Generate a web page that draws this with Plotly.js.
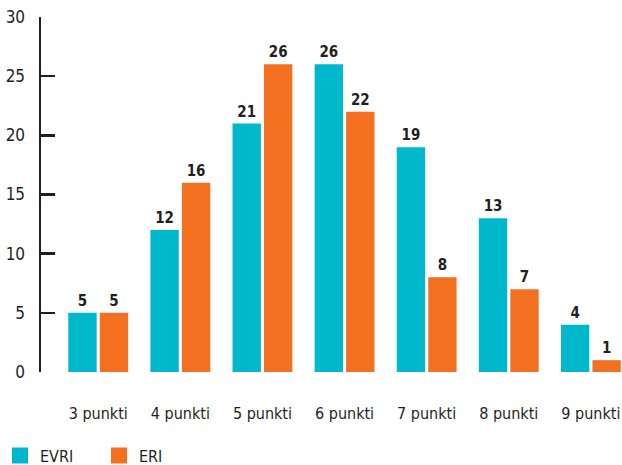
<!DOCTYPE html>
<html><head><meta charset="utf-8">
<script src="https://cdn.plot.ly/plotly-3.0.1.min.js"></script>
<style>html,body{margin:0;padding:0;background:#fff}#c{width:622px;height:465px}</style>
</head><body><div id="c"></div>
<script>
const categories = ["3 punkti","4 punkti","5 punkti","6 punkti","7 punkti","8 punkti","9 punkti"];
const evri = [5,12,21,26,19,13,4];
const eri = [5,16,26,22,8,7,1];
const seriesNames = ["EVRI","ERI"];
const seriesColors = ['#00B8CC','#F37021'];
const yTicks = [0,5,10,15,20,25,30];

const FONT = "DejaVu Sans Condensed, Liberation Sans Narrow, sans-serif";
const INK = "#231F20";
const common = {type:'bar', x:categories, textposition:'outside', cliponaxis:false, showlegend:false,
  textfont:{family:FONT, size:15, color:INK, weight:700}, hoverinfo:'none'};
const data = [
  Object.assign({}, common, {name:seriesNames[0], y:evri, text:evri.map(String), marker:{color:seriesColors[0]}}),
  Object.assign({}, common, {name:seriesNames[1], y:eri, text:eri.map(String), marker:{color:seriesColors[1]}})
];
// legend-only entries with larger square keys
seriesNames.forEach((n,i)=>data.push({type:'scatter', mode:'markers', x:[categories[0]], y:[null], name:n,
  marker:{symbol:'square', size:18, color:seriesColors[i]}, hoverinfo:'none'}));

const layout = {
  width:622, height:465,
  margin:{l:41, r:0, t:17, b:93},
  paper_bgcolor:'#fff', plot_bgcolor:'#fff',
  font:{family:FONT, color:INK, size:16},
  barmode:'group', bargap:0.233, bargroupgap:0.1,
  showlegend:true,
  legend:{orientation:'h', xref:'container', yref:'container', x:0.0, y:0.02, xanchor:'left', yanchor:'middle',
    font:{family:FONT, size:16, color:INK}, entrywidth:54, entrywidthmode:'pixels', itemwidth:30, itemsizing:'trace'},
  xaxis:{type:'category', range:[-0.697,6.379], showline:false, ticks:'', showgrid:false, zeroline:false,
    tickfont:{family:FONT, size:16, color:INK}, ticklabelstandoff:30, tickangle:0},
  yaxis:{range:[0,30], tickvals:yTicks, showgrid:false, zeroline:false, showline:true, linewidth:2.5, linecolor:INK,
    ticks:'inside', ticklen:14, tickwidth:2.5, tickcolor:INK,
    tickfont:{family:FONT, size:17, color:INK}, ticklabelstandoff:10}
};
Plotly.newPlot('c', data, layout, {displayModeBar:false, staticPlot:true});
</script></body></html>
